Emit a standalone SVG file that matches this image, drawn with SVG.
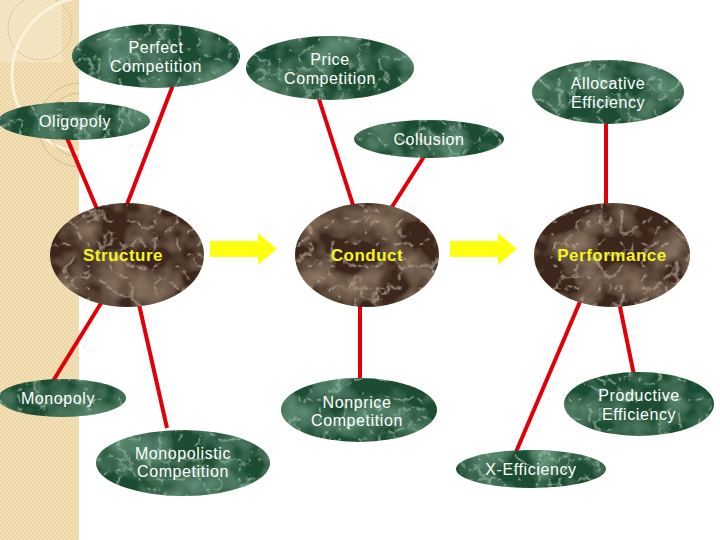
<svg xmlns="http://www.w3.org/2000/svg" width="720" height="540" viewBox="0 0 720 540">
<style>
.g{fill:#1a4d31;filter:url(#gm)}
.b{fill:#3c281a;filter:url(#bm)}
.t{font-family:"Liberation Sans",Arial,sans-serif;font-size:16px;fill:#ffffff;text-anchor:middle;letter-spacing:0.6px}
.y{font-family:"Liberation Sans",Arial,sans-serif;font-size:17px;font-weight:bold;fill:#f4f422;text-anchor:middle;letter-spacing:0.5px}
.c line{stroke:#e0000a;stroke-width:4;stroke-linecap:butt}
.a{fill:#ffff10}
</style>
<defs>
<pattern id="chk" width="4" height="4" patternUnits="userSpaceOnUse">
<rect width="4" height="4" fill="#f3e0b6"/>
<rect width="2" height="2" fill="#ecd6a6"/>
<rect x="2" y="2" width="2" height="2" fill="#ecd6a6"/>
</pattern>
<clipPath id="strip"><rect x="0" y="0" width="79" height="540"/></clipPath>
<filter id="gm" x="0" y="0" width="100%" height="100%">
<feTurbulence type="fractalNoise" baseFrequency="0.03" numOctaves="3" seed="3" result="m"/>
<feColorMatrix in="m" type="matrix" values="0 0 0 0 0.22  0 0 0 0 0.48  0 0 0 0 0.33  1.1 0 0 0 -0.42" result="mm"/>
<feComposite in="mm" in2="SourceAlpha" operator="in" result="mv"/>
<feTurbulence type="turbulence" baseFrequency="0.05" numOctaves="4" seed="7" result="n"/>
<feColorMatrix in="n" type="matrix" values="0 0 0 0 0.4  0 0 0 0 0.66  0 0 0 0 0.5  -2.8 0 0 0 0.55" result="v"/>
<feComposite in="v" in2="SourceAlpha" operator="in" result="vv"/>
<feMerge><feMergeNode in="SourceGraphic"/><feMergeNode in="mv"/><feMergeNode in="vv"/></feMerge>
</filter>
<filter id="bm" x="0" y="0" width="100%" height="100%">
<feTurbulence type="fractalNoise" baseFrequency="0.03" numOctaves="3" seed="5" result="m"/>
<feColorMatrix in="m" type="matrix" values="0 0 0 0 0.45  0 0 0 0 0.32  0 0 0 0 0.22  1.1 0 0 0 -0.42" result="mm"/>
<feComposite in="mm" in2="SourceAlpha" operator="in" result="mv"/>
<feTurbulence type="turbulence" baseFrequency="0.045" numOctaves="4" seed="11" result="n"/>
<feColorMatrix in="n" type="matrix" values="0 0 0 0 0.66  0 0 0 0 0.52  0 0 0 0 0.4  -2.8 0 0 0 0.55" result="v"/>
<feComposite in="v" in2="SourceAlpha" operator="in" result="vv"/>
<feMerge><feMergeNode in="SourceGraphic"/><feMergeNode in="mv"/><feMergeNode in="vv"/></feMerge>
</filter>
</defs>
<rect width="720" height="540" fill="#ffffff"/>
<g id="background" clip-path="url(#strip)">
<rect x="0" y="0" width="79" height="540" fill="url(#chk)"/>
<rect x="0" y="0" width="62" height="62" fill="#f8ecd4" opacity="0.5"/>
<circle cx="40" cy="28" r="32" fill="none" stroke="#d8c09a" stroke-width="0.8"/>
<circle cx="90" cy="75" r="78" fill="none" stroke="#fbf3de" stroke-width="3"/>
<circle cx="80" cy="125" r="42" fill="none" stroke="#cdb48e" stroke-width="0.8"/>
<circle cx="80" cy="125" r="32" fill="none" stroke="#cdb48e" stroke-width="0.8"/>
</g>
<g class="c" id="connectors">
<line x1="173" y1="85" x2="126" y2="207"/>
<line x1="67" y1="138" x2="97" y2="209"/>
<line x1="103" y1="300" x2="53" y2="381"/>
<line x1="138" y1="300" x2="167" y2="428"/>
<line x1="318" y1="96" x2="354" y2="208"/>
<line x1="425" y1="155" x2="390" y2="210"/>
<line x1="360" y1="305" x2="360" y2="378"/>
<line x1="606" y1="122" x2="606" y2="206"/>
<line x1="582" y1="297" x2="516" y2="452"/>
<line x1="618" y1="297" x2="634" y2="375"/>
</g>
<g id="arrows">
<polygon class="a" points="210,241 258,241 258,233 277,249 258,265 258,257 210,257"/>
<polygon class="a" points="450,241 498,241 498,233 517,249 498,265 498,257 450,257"/>
</g>
<g id="perfect"><ellipse class="g" cx="156" cy="56" rx="84" ry="32"/><text class="t" x="156" y="53">Perfect</text><text class="t" x="156" y="72">Competition</text></g>
<g id="price"><ellipse class="g" cx="330" cy="68" rx="84" ry="32"/><text class="t" x="330" y="65">Price</text><text class="t" x="330" y="84">Competition</text></g>
<g id="allocative"><ellipse class="g" cx="608" cy="92" rx="76" ry="32"/><text class="t" x="608" y="89">Allocative</text><text class="t" x="608" y="108">Efficiency</text></g>
<g id="oligopoly"><ellipse class="g" cx="74" cy="121" rx="76" ry="19"/><text class="t" x="75" y="127">Oligopoly</text></g>
<g id="collusion"><ellipse class="g" cx="429" cy="139" rx="75" ry="19"/><text class="t" x="429" y="145">Collusion</text></g>
<g id="structure"><ellipse class="b" cx="127" cy="255" rx="77" ry="52"/><text class="y" x="123" y="261">Structure</text></g>
<g id="conduct"><ellipse class="b" cx="367" cy="255" rx="72" ry="52"/><text class="y" x="367" y="261">Conduct</text></g>
<g id="performance"><ellipse class="b" cx="612" cy="255" rx="78" ry="52"/><text class="y" x="612" y="261">Performance</text></g>
<g id="monopoly"><ellipse class="g" cx="62" cy="398" rx="64" ry="19"/><text class="t" x="58" y="404">Monopoly</text></g>
<g id="monopolistic"><ellipse class="g" cx="183" cy="463" rx="87" ry="33"/><text class="t" x="183" y="459">Monopolistic</text><text class="t" x="183" y="477">Competition</text></g>
<g id="nonprice"><ellipse class="g" cx="359" cy="410" rx="78" ry="32"/><text class="t" x="357" y="408">Nonprice</text><text class="t" x="357" y="426">Competition</text></g>
<g id="productive"><ellipse class="g" cx="639" cy="404" rx="75" ry="32"/><text class="t" x="639" y="401">Productive</text><text class="t" x="639" y="420">Efficiency</text></g>
<g id="xeff"><ellipse class="g" cx="531" cy="469" rx="75" ry="19"/><text class="t" x="531" y="475">X-Efficiency</text></g>
</svg>
